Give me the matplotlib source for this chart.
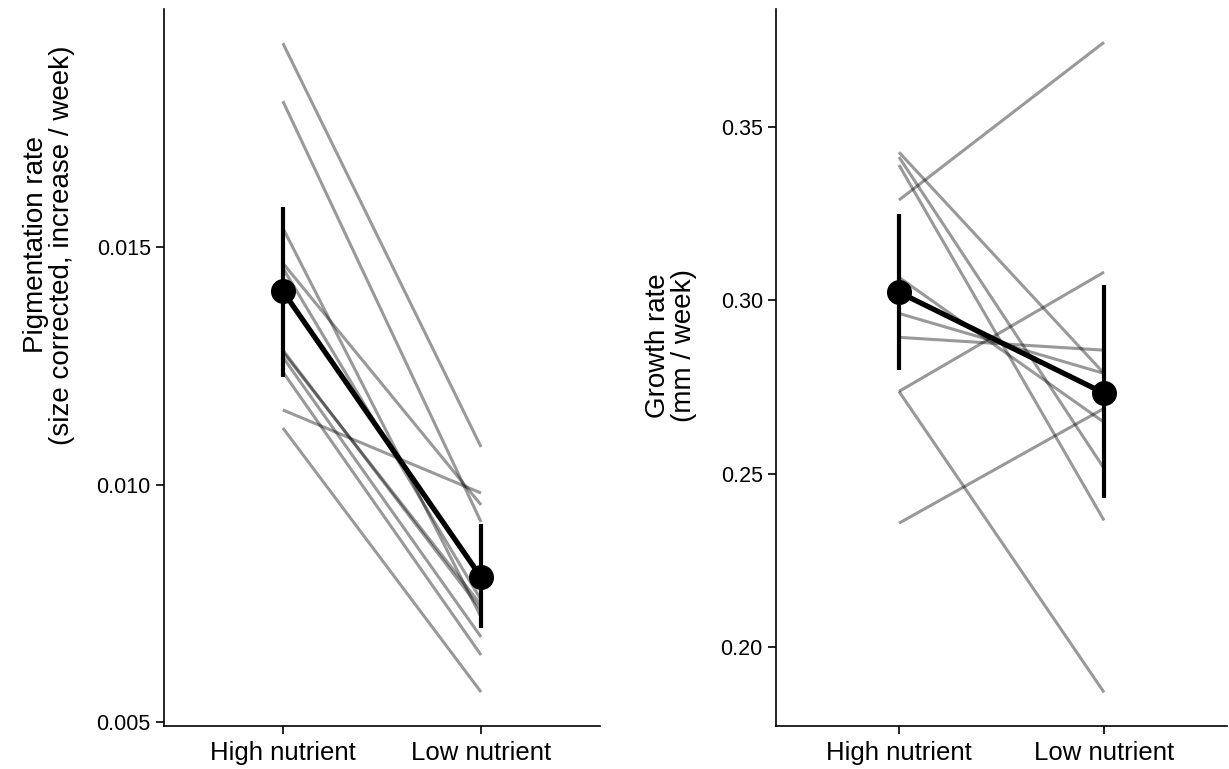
import numpy as np
import matplotlib
matplotlib.use("Agg")
import matplotlib.pyplot as plt

plt.rcParams['font.family'] = ['Liberation Sans', 'DejaVu Sans']

groups = ["High nutrient", "Low nutrient"]

# pigmentation rate, one pair per individual (high, low)
pig_high = [0.01929, 0.01807, 0.01540, 0.01466, 0.01456, 0.01283,
            0.01279, 0.01268, 0.01237, 0.01157, 0.01119]
pig_low = [0.01079, 0.00921, 0.00721, 0.00957, 0.00757, 0.00736,
           0.00746, 0.00679, 0.00641, 0.00982, 0.00563]
pig_mean = [0.01407, 0.00805]
pig_lo = [0.01226, 0.00698]
pig_hi = [0.01584, 0.00917]

# growth rate
gr_high = [0.3427, 0.3413, 0.3390, 0.3289, 0.3066, 0.2962,
           0.2893, 0.2737, 0.2737, 0.2357]
gr_low = [0.2789, 0.2515, 0.2365, 0.3744, 0.2648, 0.2789,
          0.2856, 0.3081, 0.1869, 0.2688]
gr_mean = [0.3023, 0.2732]
gr_lo = [0.2798, 0.2429]
gr_hi = [0.3248, 0.3043]

fig = plt.figure(figsize=(12.29, 7.69), dpi=100)
ax1 = fig.add_axes([0.1334, 0.0559, 0.3548, 0.9324])
ax2 = fig.add_axes([0.6314, 0.0559, 0.3670, 0.9324])


def panel(ax, hi, lo, mean, elo, ehi, ylim, yticks, ylabel, lab_xy):
    x = np.arange(len(groups))
    for a, b in zip(hi, lo):
        ax.plot(x, [a, b], color='black', alpha=0.4, lw=2.2,
                solid_capstyle='butt', zorder=2)
    ax.plot(x, mean, color='black', lw=3.8, zorder=3)
    ax.vlines(x, elo, ehi, color='black', lw=3.0, zorder=3)
    ax.plot(x, mean, 'o', color='black', ms=17, zorder=4)
    ax.set_xlim(-0.6, 1.6)
    ax.set_ylim(*ylim)
    ax.set_xticks(x)
    ax.set_xticklabels(groups)
    ax.set_yticks(yticks)
    ax.set_ylabel(ylabel, fontsize=20, linespacing=1.0)
    ax.yaxis.set_label_coords(*lab_xy)
    for s in ['top', 'right']:
        ax.spines[s].set_visible(False)
    for s in ['left', 'bottom']:
        ax.spines[s].set_linewidth(1.2)
    ax.tick_params(direction='out', length=5.5, width=1.2, colors='black')
    ax.tick_params(axis='y', labelsize=15.5, pad=4)
    ax.tick_params(axis='x', labelsize=18.5, pad=5)


panel(ax1, pig_high, pig_low, pig_mean, pig_lo, pig_hi,
      (0.004916, 0.02001), [0.005, 0.010, 0.015],
      "Pigmentation rate\n(size corrected, increase / week)", (-0.205, 0.671))
ax1.set_yticklabels(["0.005", "0.010", "0.015"])

panel(ax2, gr_high, gr_low, gr_mean, gr_lo, gr_hi,
      (0.1772, 0.384), [0.20, 0.25, 0.30, 0.35],
      "Growth rate\n(mm / week)", (-0.175, 0.531))
ax2.set_yticklabels(["0.20", "0.25", "0.30", "0.35"])

fig.savefig("out.png", dpi=100)
